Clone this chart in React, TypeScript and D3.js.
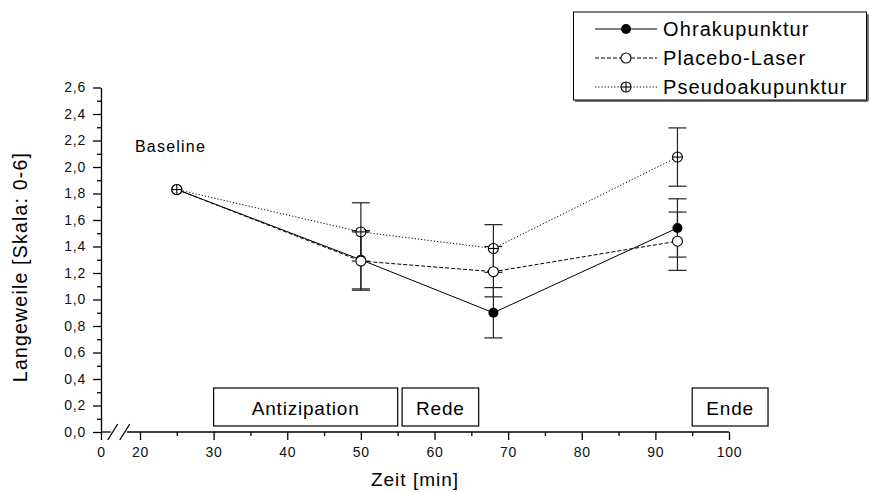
import { useEffect, useRef } from "react";
import * as d3 from "d3";

// measurement times (min)
const times = [25, 50, 68, 93];

// mean values per group
const ohrValues = [1.83, 1.3, 0.9, 1.54];
const placeboValues = [1.83, 1.29, 1.21, 1.44];
const pseudoValues = [1.83, 1.51, 1.385, 2.075];

// error bar half widths
const ohrErrors = [0, 0.22, 0.19, 0.22];
const placeboErrors = [0, 0.22, 0.19, 0.22];
const pseudoErrors = [0, 0.22, 0.18, 0.22];

const seriesNames = ["Ohrakupunktur", "Placebo-Laser", "Pseudoakupunktur"];

const xMajorTicks = [0, 20, 30, 40, 50, 60, 70, 80, 90, 100];
const xMinorTicks = [25, 35, 45, 55, 65, 75, 85, 95];
const yMajorTicks = [0, 0.2, 0.4, 0.6, 0.8, 1.0, 1.2, 1.4, 1.6, 1.8, 2.0, 2.2, 2.4, 2.6];
const yMinorTicks = [0.1, 0.3, 0.5, 0.7, 0.9, 1.1, 1.3, 1.5, 1.7, 1.9, 2.1, 2.3, 2.5];

// phase boxes along the time axis
const phaseLabels = ["Antizipation", "Rede", "Ende"];
const phaseStart = [30, 55.6, 95];
const phaseEnd = [55, 66, 105.3];

const FONT = "'Liberation Sans', Arial, Helvetica, sans-serif";
const W = 869;
const H = 492;

const drawMarker = (g, type, cx, cy) => {
  const r = 5;
  if (type === "filled") {
    g.append("circle").attr("cx", cx).attr("cy", cy).attr("r", r).attr("fill", "#000");
    return;
  }
  g.append("circle")
    .attr("cx", cx)
    .attr("cy", cy)
    .attr("r", r)
    .attr("fill", "#fff")
    .attr("stroke", "#000")
    .attr("stroke-width", 1.1);
  if (type === "cross") {
    g.append("line").attr("x1", cx - r).attr("x2", cx + r).attr("y1", cy).attr("y2", cy)
      .attr("stroke", "#000").attr("stroke-width", 1.1);
    g.append("line").attr("x1", cx).attr("x2", cx).attr("y1", cy - r).attr("y2", cy + r)
      .attr("stroke", "#000").attr("stroke-width", 1.1);
  }
};

const App = () => {
  const svgRef = useRef(null);

  useEffect(() => {
    const svg = d3.select(svgRef.current);
    svg.selectAll("*").remove();

    // scales (x axis has a break between 0 and 20)
    const x = d3.scaleLinear().domain([0, 20, 100]).range([101, 140, 729]);
    const y = d3.scaleLinear().domain([0, 2.6]).range([432, 87.5]);

    const series = [
      { name: seriesNames[0], values: ohrValues, errors: ohrErrors, dash: null, marker: "filled" },
      { name: seriesNames[1], values: placeboValues, errors: placeboErrors, dash: "4,2", marker: "open" },
      { name: seriesNames[2], values: pseudoValues, errors: pseudoErrors, dash: "1.2,2", marker: "cross" },
    ];

    // y axis
    const yAxis = d3
      .axisLeft(y)
      .tickValues(yMajorTicks)
      .tickSize(8)
      .tickSizeOuter(0)
      .tickPadding(7)
      .tickFormat((d) => d3.format(".1f")(d).replace(".", ","));
    const gy = svg.append("g").attr("transform", "translate(101,0)").call(yAxis);
    gy.select(".domain").attr("stroke-width", 1.3);
    gy.selectAll(".tick line").attr("stroke-width", 1.3);
    gy.selectAll("text")
      .attr("font-size", 14)
      .attr("font-family", FONT)
      .attr("letter-spacing", 0.8)
      .attr("fill", "#111");
    svg
      .append("g")
      .attr("transform", "translate(101,0)")
      .call(d3.axisLeft(y).tickValues(yMinorTicks).tickSize(4).tickFormat(() => ""))
      .call((g) => g.select(".domain").remove())
      .selectAll(".tick line")
      .attr("stroke-width", 1.3);

    // x axis
    const xAxis = d3.axisBottom(x).tickValues(xMajorTicks).tickSize(8).tickPadding(7);
    const gx = svg.append("g").attr("transform", "translate(0,432)").call(xAxis);
    gx.select(".domain").remove();
    gx.selectAll(".tick line").attr("stroke-width", 1.3);
    gx.selectAll("text")
      .attr("font-size", 14)
      .attr("font-family", FONT)
      .attr("letter-spacing", 0.8)
      .attr("fill", "#111");
    svg
      .append("g")
      .attr("transform", "translate(0,432)")
      .call(d3.axisBottom(x).tickValues(xMinorTicks).tickSize(4).tickFormat(() => ""))
      .call((g) => g.select(".domain").remove())
      .selectAll(".tick line")
      .attr("stroke-width", 1.3);

    // x axis line with break marks
    const breakA = x(6);
    const breakB = x(12.2);
    svg.append("line").attr("x1", x(0)).attr("x2", breakA - 2).attr("y1", 432).attr("y2", 432)
      .attr("stroke", "#000").attr("stroke-width", 1.3);
    svg.append("line").attr("x1", breakB + 2).attr("x2", x(100)).attr("y1", 432).attr("y2", 432)
      .attr("stroke", "#000").attr("stroke-width", 1.3);
    [breakA, breakB].forEach((bx) => {
      svg.append("line")
        .attr("x1", bx - 5).attr("y1", 440)
        .attr("x2", bx + 5).attr("y2", 424)
        .attr("stroke", "#000").attr("stroke-width", 1.3);
    });

    // axis titles
    svg.append("text")
      .attr("x", 415)
      .attr("y", 486)
      .attr("text-anchor", "middle")
      .attr("font-size", 19)
      .attr("letter-spacing", 1)
      .attr("font-family", FONT)
      .text("Zeit [min]");
    svg.append("text")
      .attr("transform", `translate(27,267) rotate(-90)`)
      .attr("text-anchor", "middle")
      .attr("font-size", 19.5)
      .attr("letter-spacing", 1.2)
      .attr("font-family", FONT)
      .text("Langeweile [Skala: 0-6]");

    // phase boxes
    phaseLabels.forEach((label, i) => {
      const x0 = x(phaseStart[i]);
      const x1 = x(phaseEnd[i]);
      svg.append("rect")
        .attr("x", x0).attr("y", 388)
        .attr("width", x1 - x0).attr("height", 38)
        .attr("fill", "#fff").attr("stroke", "#000").attr("stroke-width", 1.2);
      svg.append("text")
        .attr("x", (x0 + x1) / 2)
        .attr("y", 415)
        .attr("text-anchor", "middle")
        .attr("font-size", 19)
        .attr("letter-spacing", 0.8)
        .attr("font-family", FONT)
        .text(label);
    });

    // baseline label
    svg.append("text")
      .attr("x", 135)
      .attr("y", 152)
      .attr("font-size", 16)
      .attr("letter-spacing", 1.2)
      .attr("font-family", FONT)
      .text("Baseline");

    // error bars
    const bars = svg.append("g");
    series.forEach((s) => {
      s.values.forEach((v, i) => {
        const e = s.errors[i];
        if (!e) return;
        const cx = x(times[i]);
        bars.append("line").attr("x1", cx).attr("x2", cx).attr("y1", y(v - e)).attr("y2", y(v + e))
          .attr("stroke", "#222").attr("stroke-width", 1.2);
        [v - e, v + e].forEach((yy) => {
          bars.append("line").attr("x1", cx - 9).attr("x2", cx + 9).attr("y1", y(yy)).attr("y2", y(yy))
            .attr("stroke", "#222").attr("stroke-width", 1.2);
        });
      });
    });

    // lines
    const line = d3
      .line()
      .x((d, i) => x(times[i]))
      .y((d) => y(d));
    series.forEach((s) => {
      svg.append("path")
        .datum(s.values)
        .attr("d", line)
        .attr("fill", "none")
        .attr("stroke", "#000")
        .attr("stroke-width", 1)
        .attr("stroke-dasharray", s.dash);
    });

    // markers
    series.forEach((s) => {
      const g = svg.append("g");
      s.values.forEach((v, i) => drawMarker(g, s.marker, x(times[i]), y(v)));
    });

    // legend
    const legend = svg.append("g");
    legend.append("line").attr("x1", 575).attr("x2", 868).attr("y1", 101).attr("y2", 101)
      .attr("stroke", "#777").attr("stroke-width", 2);
    legend.append("line").attr("x1", 868).attr("x2", 868).attr("y1", 14).attr("y2", 101)
      .attr("stroke", "#777").attr("stroke-width", 2);
    legend.append("rect")
      .attr("x", 573.5).attr("y", 12)
      .attr("width", 293).attr("height", 88)
      .attr("fill", "#fff").attr("stroke", "#000").attr("stroke-width", 1);
    const rowY = d3.scalePoint().domain(seriesNames).range([29, 87]);
    series.forEach((s) => {
      const ry = rowY(s.name);
      legend.append("line").attr("x1", 595).attr("x2", 657).attr("y1", ry).attr("y2", ry)
        .attr("stroke", "#000").attr("stroke-width", 1).attr("stroke-dasharray", s.dash);
      drawMarker(legend, s.marker, 626, ry);
      legend.append("text")
        .attr("x", 663)
        .attr("y", ry)
        .attr("dy", "0.36em")
        .attr("font-size", 20)
        .attr("letter-spacing", 1.1)
        .attr("font-family", FONT)
        .text(s.name);
    });
  }, []);

  return (
    <svg
      ref={svgRef}
      width={W}
      height={H}
      style={{ position: "absolute", left: 0, top: 0, background: "#fff" }}
    />
  );
};

export default App;
